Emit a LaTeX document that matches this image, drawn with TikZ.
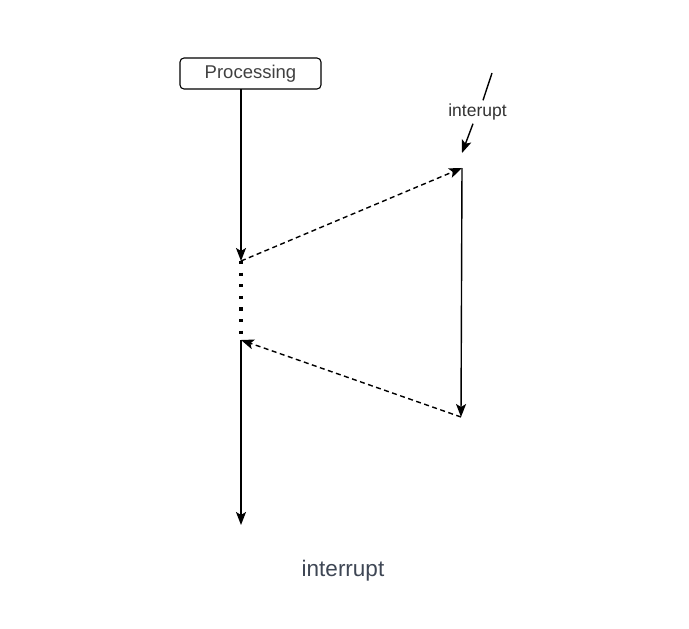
\documentclass[tikz,border=0pt]{standalone}
\usepackage{fontspec}
\setmainfont{Liberation Sans}
\usetikzlibrary{arrows.meta}

\tikzset{
  flow/.style={line width=1.4pt,-{Stealth[length=13pt,width=10pt,inset=3pt]}},
  jump/.style={flow,dash pattern=on 5pt off 3.5pt},
  wait/.style={line width=3.2pt,dash pattern=on 3.2pt off 8.4pt},
  procbox/.style={draw,line width=1.1pt,rounded corners=4pt,minimum width=141pt,minimum height=31pt,font=\fontsize{18.5}{21}\selectfont,text=black!75}
}

\begin{document}
\begin{tikzpicture}[x=1pt,y=-1pt]
  \useasboundingbox (0,0) rectangle (689,629);
  \node[procbox] (proc) at (250.5,73.5) {Processing};
  \coordinate (main) at (241,89);
  \coordinate (A) at (241,261);
  \coordinate (B) at (241,340);
  \coordinate (E) at (241,525);
  \coordinate (C) at (462,168);
  \coordinate (D) at (461,417);
  \draw[flow] (main)--(A);
  \draw[wait] (A)--(B);
  \draw[flow] (B)--(E);
  \draw[jump] (A)--(C);
  \draw[flow] (C)--(D);
  \draw[jump] (D)--(B);
  % signal coming in
  \node[font=\fontsize{17.5}{20}\selectfont,text=black!80] (irq) at (477.5,112) {interupt};
  \coordinate (src) at (492,73);
  \coordinate (dst) at (462,153);
  \draw[line width=1.4pt] (src)--(irq.north-|483,0);
  \draw[flow] (irq.south-|473,0)--(dst);
  \node[font=\fontsize{22.5}{26}\selectfont,text={rgb,255:red,62;green,70;blue,84}] (cap) at (343,571) {interrupt};
\end{tikzpicture}
\end{document}
